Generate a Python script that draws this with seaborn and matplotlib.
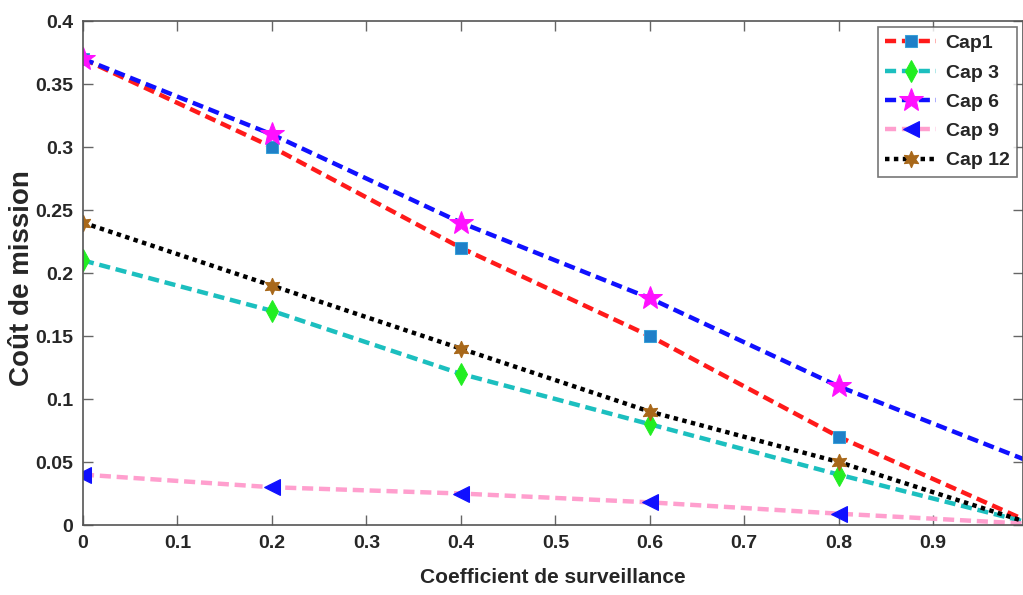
import matplotlib
matplotlib.use("Agg")
import matplotlib.pyplot as plt
import seaborn as sns
import numpy as np

x_vals = [0.0, 0.2, 0.4, 0.6, 0.8, 1.0]
cap1 = [0.37, 0.30, 0.22, 0.15, 0.07, 0.003]
cap3 = [0.21, 0.17, 0.12, 0.08, 0.04, 0.002]
cap6 = [0.37, 0.31, 0.24, 0.18, 0.11, 0.051]
cap9 = [0.04, 0.03, 0.025, 0.018, 0.009, 0.001]
cap12 = [0.24, 0.19, 0.14, 0.09, 0.05, 0.002]
labels = ["Cap1", "Cap 3", "Cap 6", "Cap 9", "Cap 12"]
x_ticks = [0, 0.1, 0.2, 0.3, 0.4, 0.5, 0.6, 0.7, 0.8, 0.9]
y_ticks = [0, 0.05, 0.1, 0.15, 0.2, 0.25, 0.3, 0.35, 0.4]

sns.set_style("ticks")
plt.rcParams['font.family'] = ['Liberation Sans', 'DejaVu Sans']
plt.rcParams['font.weight'] = 'bold'
plt.rcParams['xtick.direction'] = 'in'
plt.rcParams['ytick.direction'] = 'in'

fig = plt.figure(figsize=(10.23, 5.95), dpi=100)
ax = fig.add_axes([0.0811, 0.1176, 0.9189, 0.8471])

dash = (0, (2.5, 1.3))
styles = [
    dict(color="#ff1a1a", linestyle=dash, marker="s", markersize=8,
         markerfacecolor="#1f80c8", markeredgecolor="#3aa0d8"),
    dict(color="#1cbfbf", linestyle=dash, marker="d", markersize=11,
         markerfacecolor="#22ee22", markeredgecolor="#22ee22"),
    dict(color="#1010ff", linestyle=dash, marker="*", markersize=18,
         markerfacecolor="#ff10ff", markeredgecolor="#ff10ff"),
    dict(color="#ff9fce", linestyle=dash, marker="<", markersize=11,
         markerfacecolor="#1010ff", markeredgecolor="#1010ff"),
    dict(color="black", linestyle=(0, (1, 1)), marker=(6, 1, 0), markersize=12,
         markerfacecolor="#a8681a", markeredgecolor="#a8681a"),
]
series = [cap1, cap3, cap6, cap9, cap12]
for ys, lab, st in zip(series, labels, styles):
    sns.lineplot(x=x_vals, y=ys, ax=ax, label=lab, linewidth=3.2,
                 markevery=[0, 1, 2, 3, 4], **st)

ax.set_xlim(0, 0.995)
ax.set_ylim(0, 0.4)
ax.set_xticks(x_ticks)
ax.set_xticklabels([f"{t:g}" for t in x_ticks])
ax.set_yticks(y_ticks)
ax.set_yticklabels([f"{t:g}" for t in y_ticks])
ax.tick_params(axis='both', labelsize=14, length=7, width=1, color="#666666",
               top=True, right=True, pad=7)
for sp in ax.spines.values():
    sp.set_color("#555555")
    sp.set_linewidth(1.2)

ax.set_xlabel("Coefficient de surveillance", fontsize=15, fontweight='bold', labelpad=12)
ax.set_ylabel("Coût de mission", fontsize=20, fontweight='bold')
ax.yaxis.set_label_coords(-0.051, 0.49)

leg = ax.legend(loc="upper right", fontsize=14, frameon=True, fancybox=False,
                edgecolor="#555555", handlelength=2.6, borderaxespad=0.3,
                labelspacing=0.6, handletextpad=0.5)
leg.get_frame().set_linewidth(1.2)

fig.savefig("out.png", dpi=100)
